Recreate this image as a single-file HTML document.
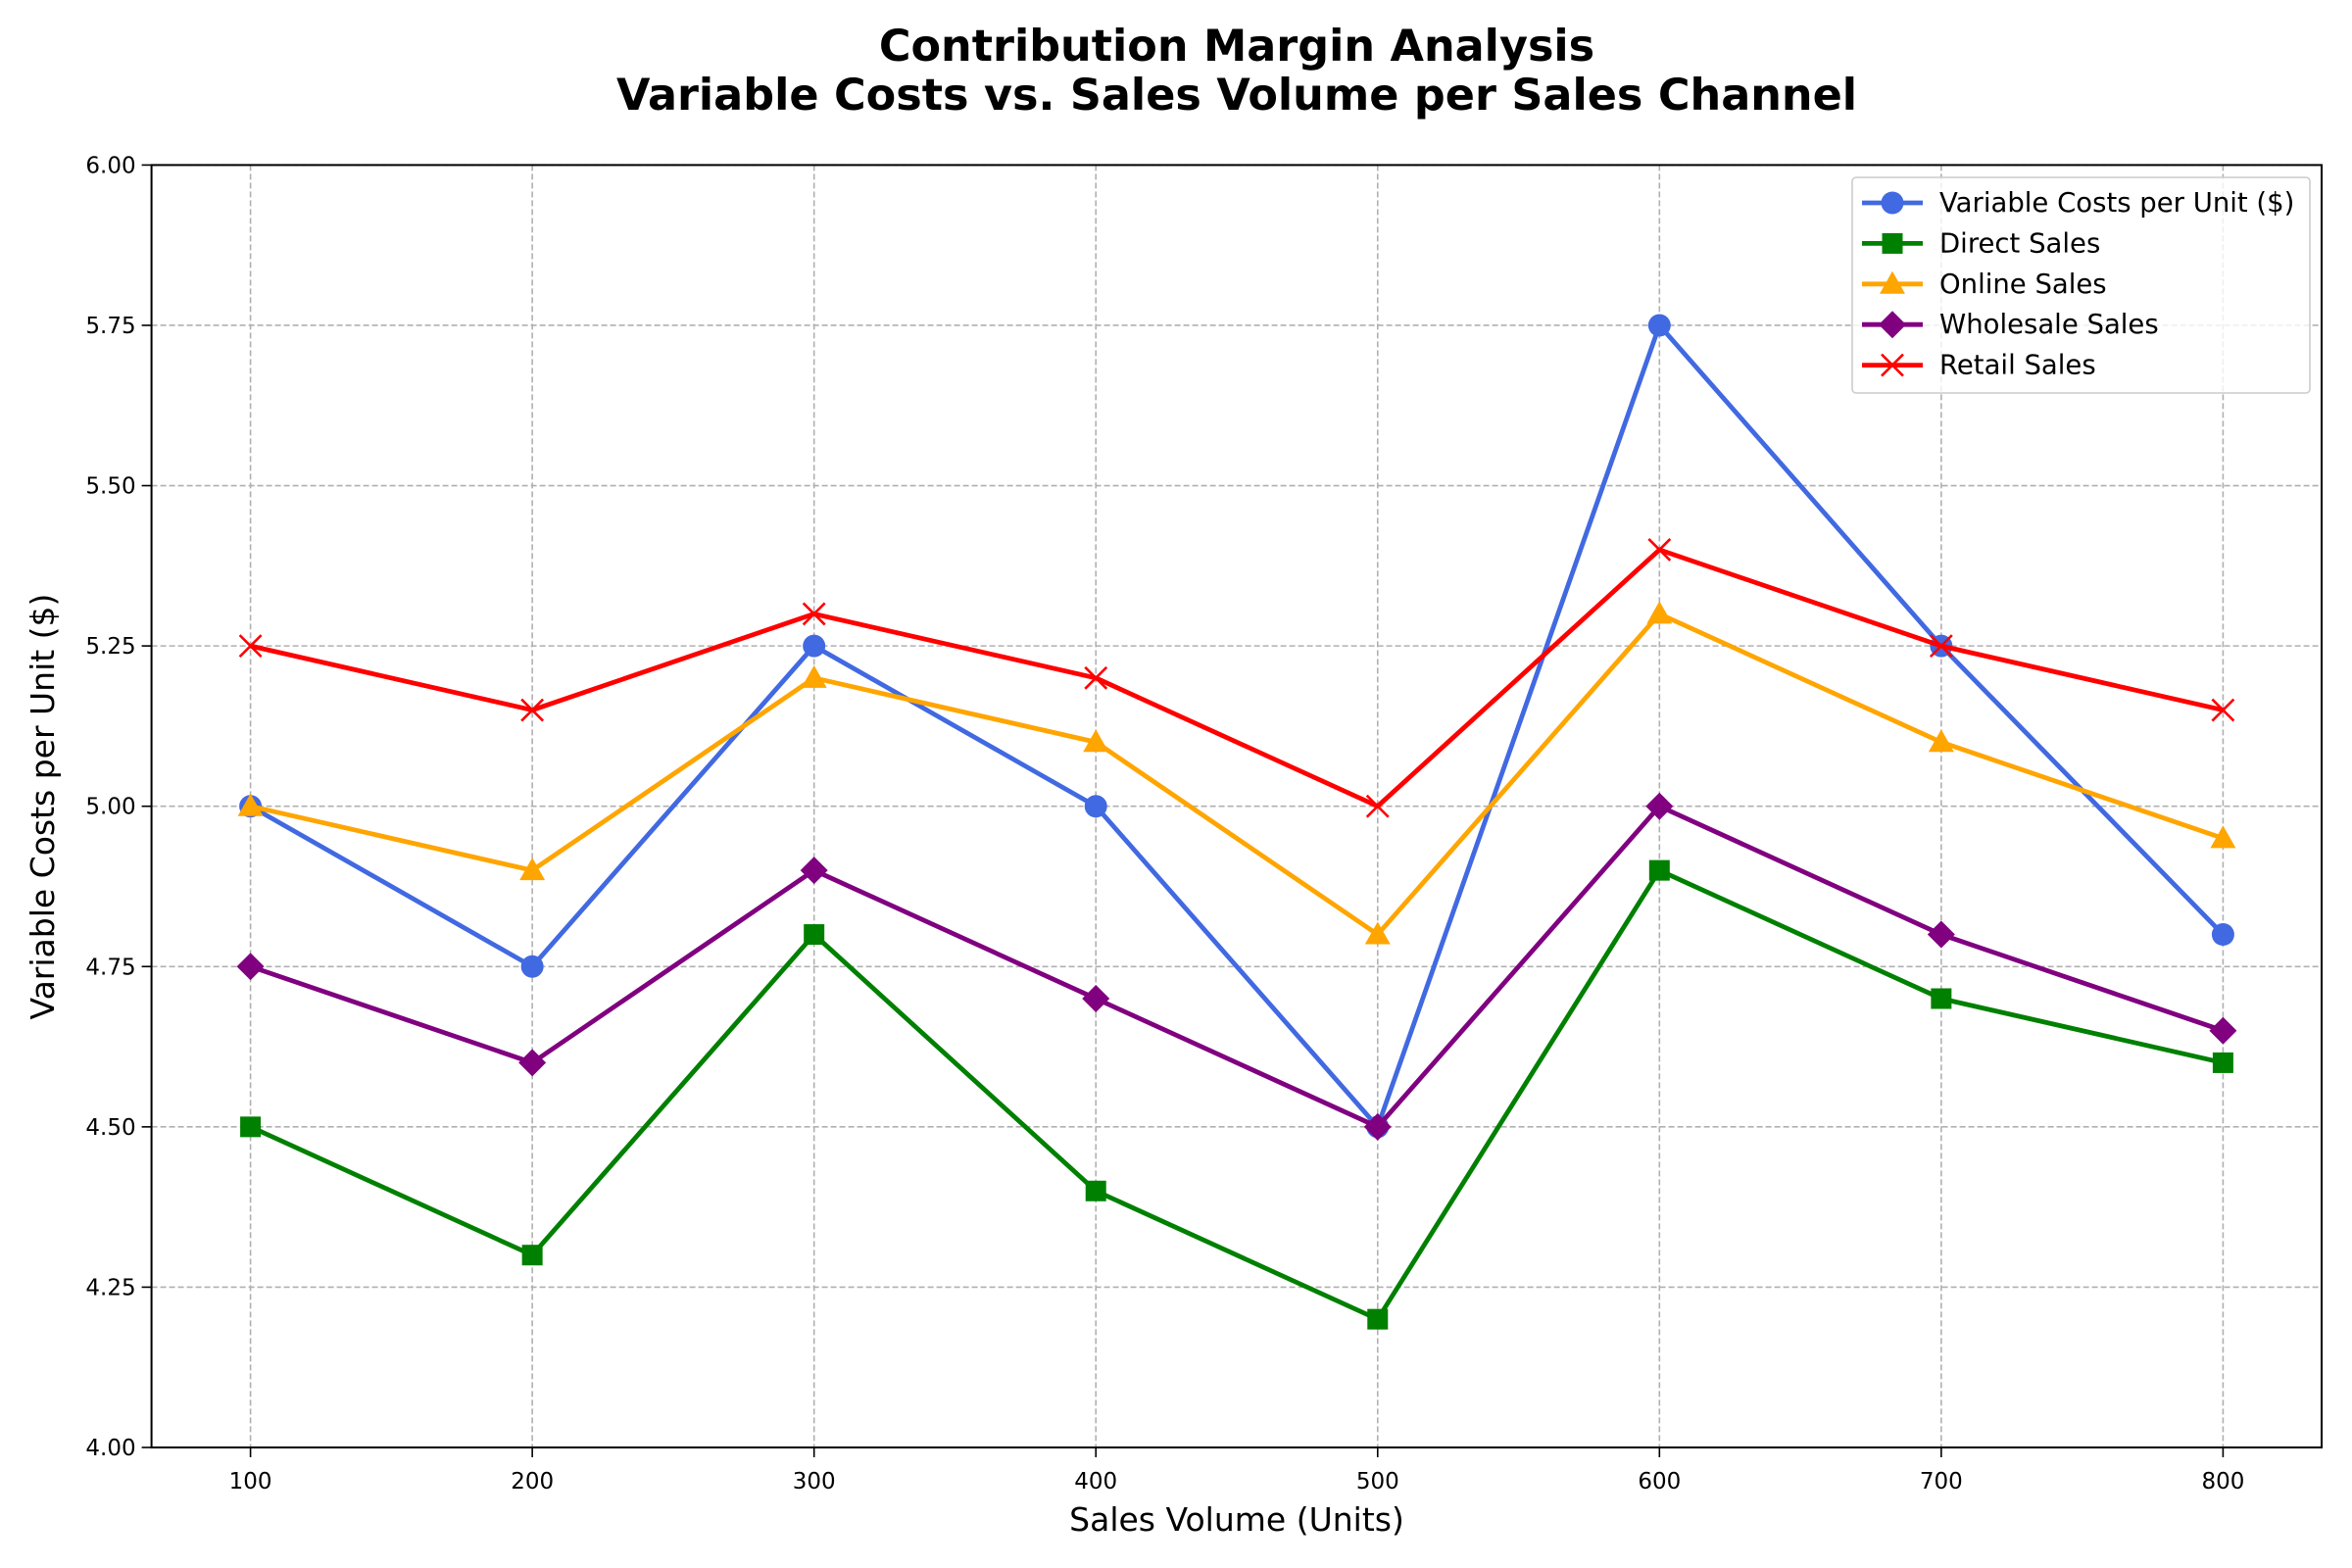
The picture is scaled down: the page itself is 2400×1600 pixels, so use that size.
<!DOCTYPE html>
<html><head><meta charset="utf-8"><style>
html,body{margin:0;padding:0;background:#fff}
svg{display:block;font-family:"DejaVu Sans","Liberation Sans",sans-serif}
</style></head><body>
<svg id="chart" width="2400" height="1600" xmlns="http://www.w3.org/2000/svg">
<text x="1262" y="62" text-anchor="middle" font-size="44.5" font-weight="bold">Contribution Margin Analysis</text>
<text x="1262" y="112" text-anchor="middle" font-size="44.5" font-weight="bold">Variable Costs vs. Sales Volume per Sales Channel</text>
<g id="grid"></g>
<g id="series"></g>
<rect x="154.6" y="168.4" width="2214.4" height="1308.6" fill="none" stroke="#000" stroke-width="2"/>
<g id="ticks"></g>
<text x="1262" y="1562" text-anchor="middle" font-size="33">Sales Volume (Units)</text>
<text transform="translate(55,823) rotate(-90)" text-anchor="middle" font-size="33">Variable Costs per Unit ($)</text>
<g id="legend"></g>
</svg>
<script>
const categories=[100,200,300,400,500,600,700,800];
const variableCosts=[5.0,4.75,5.25,5.0,4.5,5.75,5.25,4.8];
const directSales=[4.5,4.3,4.8,4.4,4.2,4.9,4.7,4.6];
const onlineSales=[5.0,4.9,5.2,5.1,4.8,5.3,5.1,4.95];
const wholesaleSales=[4.75,4.6,4.9,4.7,4.5,5.0,4.8,4.65];
const retailSales=[5.25,5.15,5.3,5.2,5.0,5.4,5.25,5.15];
const yTicks=[4.00,4.25,4.50,4.75,5.00,5.25,5.50,5.75,6.00];
const xTicks=[100,200,300,400,500,600,700,800];
const seriesNames=["Variable Costs per Unit ($)","Direct Sales","Online Sales","Wholesale Sales","Retail Sales"];

const NS="http://www.w3.org/2000/svg";
const L=154.6,R=2369,T=168.4,B=1477;
function xs(v){return 255.6+(v-100)*(2268.4-255.6)/700;}
function ys(v){return B-(v-4)*(B-T)/2;}
function mk(tag,attrs,parent){const e=document.createElementNS(NS,tag);for(const k in attrs)e.setAttribute(k,attrs[k]);parent.appendChild(e);return e;}
const grid=document.getElementById('grid'),ticks=document.getElementById('ticks');
xTicks.forEach(v=>{const x=xs(v);
 const g=mk('line',{x1:x,x2:x,y1:T,y2:B,stroke:'#b0b0b0','stroke-width':1.6,'stroke-dasharray':'6,3'},grid);
 
 
 const t=mk('line',{x1:x,x2:x,y1:B,y2:B+10,stroke:'#000','stroke-width':1.6},ticks);
 
 
 const l=mk('text',{x:x,y:B+42,'text-anchor':'middle','font-size':23},ticks);l.textContent=v;
 
 
});
yTicks.forEach(v=>{const y=ys(v);
 const g=mk('line',{x1:L,x2:R,y1:y,y2:y,stroke:'#b0b0b0','stroke-width':1.6,'stroke-dasharray':'6,3'},grid);
 
 
 const t=mk('line',{x1:L-10,x2:L,y1:y,y2:y,stroke:'#000','stroke-width':1.6},ticks);
 
 
 const l=mk('text',{x:L-16,y:y+8,'text-anchor':'end','font-size':23},ticks);l.textContent=v.toFixed(2);
 
 
});
function marker(type,x,y,color,parent){
 let e;
 if(type==='o')e=mk('circle',{cx:x,cy:y,r:11.5,fill:color},parent);
 else if(type==='s')e=mk('rect',{x:x-10.5,y:y-10.5,width:21,height:21,fill:color},parent);
 else if(type==='^')e=mk('polygon',{points:`${x},${y-13} ${x+13},${y+10} ${x-13},${y+10}`,fill:color},parent);
 else if(type==='D')e=mk('polygon',{points:`${x},${y-14} ${x+14},${y} ${x},${y+14} ${x-14},${y}`,fill:color},parent);
 else e=mk('path',{d:`M${x-11},${y-11}L${x+11},${y+11}M${x-11},${y+11}L${x+11},${y-11}`,stroke:color,'stroke-width':2.6,fill:'none'},parent);
 return e;
}
const defs=[[variableCosts,'#4169e1','o'],[directSales,'#008000','s'],[onlineSales,'#ffa500','^'],[wholesaleSales,'#800080','D'],[retailSales,'#ff0000','x']];
const sg=document.getElementById('series');
defs.forEach((d,i)=>{
 const g=mk('g',{},sg);
 
 
 const pts=categories.map((c,j)=>xs(c)+','+ys(d[0][j])).join(' ');
 const pl=mk('polyline',{points:pts,fill:'none',stroke:d[1],'stroke-width':4.8,'stroke-linejoin':'round'},g);
 
 
 categories.forEach((c,j)=>{const m=marker(d[2],xs(c),ys(d[0][j]),d[1],g);
  
  });
});
const lg=document.getElementById('legend');
const box=mk('rect',{x:1890,y:181,width:467,height:220,rx:4,fill:'#fff','fill-opacity':0.8,stroke:'#ccc','stroke-width':1.6},lg);


defs.forEach((d,i)=>{
 const y=207+i*41.4;
 const g=mk('g',{},lg);
 
 
 mk('line',{x1:1900,x2:1962,y1:y,y2:y,stroke:d[1],'stroke-width':4.8},g);
 marker(d[2],1931,y,d[1],g);
 const t=mk('text',{x:1979,y:y+9,'font-size':27.5},g);t.textContent=seriesNames[i];
});
</script>
</body></html>
